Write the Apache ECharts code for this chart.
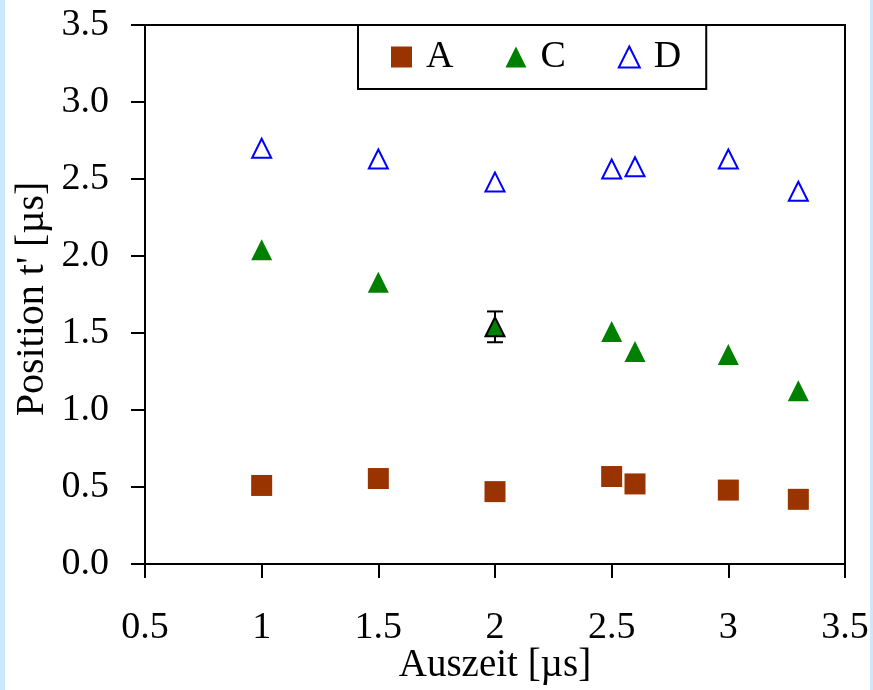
<!DOCTYPE html>
<html>
<head>
<meta charset="utf-8">
<script src="https://cdn.jsdelivr.net/npm/echarts@6/dist/echarts.min.js"></script>
<style>
html,body{margin:0;padding:0;background:#fff;}
#chart{width:873px;height:690px;}
</style>
</head>
<body>
<div id="chart"></div>
<script>
// ---- data ----
var xValues = [1, 1.5, 2, 2.5, 2.6, 3, 3.3];
var seriesA = [0.51, 0.555, 0.47, 0.568, 0.52, 0.48, 0.42];
var seriesC = [2.04, 1.83, 1.54, 1.51, 1.38, 1.36, 1.125];
var seriesD = [2.70, 2.63, 2.48, 2.565, 2.58, 2.63, 2.42];
var errorBarC = [[2, 1.44, 1.64]]; // x, low, high
var seriesNames = ['A', 'C', 'D'];
var xTitle = 'Auszeit [µs]';
var yTitle = "Position t' [µs]";

var FONT = 'Liberation Serif, Times New Roman, serif';
var FS = 38;

function pairs(vals) {
  return xValues.map(function (x, i) { return [x, vals[i]]; });
}

var cData = pairs(seriesC).map(function (p) {
  var hasErr = errorBarC.some(function (e) { return e[0] === p[0]; });
  if (hasErr) {
    return { value: p, symbolSize: 19, itemStyle: { borderColor: '#000', borderWidth: 2 } };
  }
  return p;
});

var chart = echarts.init(document.getElementById('chart'));
chart.setOption({
  backgroundColor: '#ffffff',
  animation: false,
  textStyle: { fontFamily: FONT },
  graphic: [
    { type: 'rect', left: 0, top: 0, shape: { width: 5, height: 690 }, style: { fill: '#cce8ff' }, z: -10 },
    { type: 'rect', left: 870, top: 0, shape: { width: 3, height: 690 }, style: { fill: '#cce8ff' }, z: -10 },
    { type: 'text', x: 32, y: 299, rotation: Math.PI / 2,
      style: { text: yTitle, font: '40px ' + FONT, fill: '#000', align: 'center', verticalAlign: 'middle' } },
    { type: 'text', x: 495, y: 666,
      style: { text: xTitle, font: '39px ' + FONT, fill: '#000', align: 'center', verticalAlign: 'middle' } }
  ],
  grid: {
    left: 145, right: 28, top: 25, bottom: 126,
    show: true, borderColor: '#000', borderWidth: 2, backgroundColor: '#fff'
  },
  legend: {
    data: seriesNames,
    left: 358, top: 25,
    orient: 'horizontal',
    itemWidth: 21, itemHeight: 21,
    itemGap: 52,
    padding: [13, 25, 13, 33],
    borderColor: '#000', borderWidth: 2, backgroundColor: '#fff',
    textStyle: { fontFamily: FONT, fontSize: FS, color: '#000', padding: [0, 0, 0, 9] }
  },
  xAxis: {
    type: 'value', min: 0.5, max: 3.5, interval: 0.5,
    axisLine: { show: true, lineStyle: { color: '#000', width: 2 } },
    axisTick: { show: true, inside: false, length: 14, lineStyle: { color: '#000', width: 2 } },
    axisLabel: { color: '#000', fontFamily: FONT, fontSize: FS, margin: 45,
      formatter: function (v) { return String(Math.round(v * 10) / 10); } },
    splitLine: { show: false }
  },
  yAxis: {
    type: 'value', min: 0, max: 3.5, interval: 0.5,
    axisLine: { show: true, lineStyle: { color: '#000', width: 2 } },
    axisTick: { show: true, inside: false, length: 14, lineStyle: { color: '#000', width: 2 } },
    axisLabel: { color: '#000', fontFamily: FONT, fontSize: FS, margin: 36,
      formatter: function (v) { return v.toFixed(1); } },
    splitLine: { show: false }
  },
  series: [
    {
      name: 'A', type: 'scatter', symbol: 'rect', symbolSize: 21,
      itemStyle: { color: '#993300', opacity: 1 },
      data: pairs(seriesA), z: 3
    },
    {
      name: 'C', type: 'scatter', symbol: 'triangle', symbolSize: 21,
      itemStyle: { color: '#008000', opacity: 1 },
      data: cData, z: 3
    },
    {
      name: 'D', type: 'scatter', symbol: 'triangle', symbolSize: 19,
      itemStyle: { color: '#ffffff', borderColor: '#0000ff', borderWidth: 2, opacity: 1 },
      data: pairs(seriesD), z: 3
    },
    {
      name: 'errC', type: 'custom', z: 2,
      data: errorBarC,
      renderItem: function (params, api) {
        var x = api.value(0);
        var lo = api.coord([x, api.value(1)]);
        var hi = api.coord([x, api.value(2)]);
        var hw = 8;
        var st = { stroke: '#000', lineWidth: 2 };
        return {
          type: 'group',
          children: [
            { type: 'line', shape: { x1: lo[0], y1: lo[1], x2: hi[0], y2: hi[1] }, style: st },
            { type: 'line', shape: { x1: lo[0] - hw, y1: lo[1], x2: lo[0] + hw, y2: lo[1] }, style: st },
            { type: 'line', shape: { x1: hi[0] - hw, y1: hi[1], x2: hi[0] + hw, y2: hi[1] }, style: st }
          ]
        };
      }
    }
  ]
});
</script>
</body>
</html>
